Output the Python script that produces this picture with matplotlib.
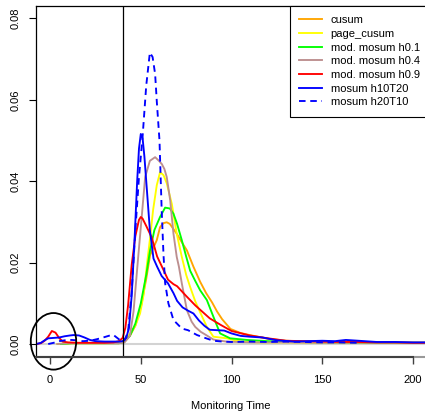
import matplotlib
matplotlib.use("Agg")
import matplotlib.pyplot as plt
from matplotlib.patches import Ellipse

plt.rcParams["font.family"] = ["Liberation Sans", "DejaVu Sans"]
plt.rcParams["font.size"] = 8

# density of detection times
t_cusum = [5, 12, 20, 30, 38, 41, 44, 47, 50, 53, 55.1, 58.8, 60.6, 62.5, 64.3, 66, 69.8,
           72.6, 75.4, 79, 82.7, 86, 89.3, 92, 94.8, 99.4, 105, 110, 120, 130, 150, 170, 190, 207]
v_cusum = [0, 0.0002, 0.0002, 0.0002, 0.0002, 0.0006, 0.002, 0.0045, 0.009, 0.016, 0.0218,
           0.0255, 0.0287, 0.0297, 0.0299, 0.0295, 0.0271, 0.025, 0.023, 0.019, 0.0153, 0.0125,
           0.0102, 0.008, 0.0061, 0.0037, 0.0027, 0.0022, 0.0013, 0.0008, 0.0005, 0.0004,
           0.0003, 0.0003]

t_page = [4, 10, 20, 30, 38, 41, 44, 47, 49.6, 51.5, 53.5, 55.1, 56.8, 58.8, 60.6, 62.5, 64.3,
          67.1, 69.8, 72.6, 75, 77.2, 80, 82.7, 86.4, 90, 97.4, 104.7, 115, 130, 150, 170, 190, 207]
v_page = [0, 0.0002, 0.0002, 0.0002, 0.0003, 0.001, 0.0025, 0.0045, 0.0075, 0.012, 0.02,
          0.026, 0.033, 0.039, 0.0422, 0.0415, 0.0395, 0.0344, 0.0271, 0.0214, 0.017, 0.014,
          0.0105, 0.0078, 0.0042, 0.0018, 0.0014, 0.0006, 0.0004, 0.0004, 0.0003, 0.0003,
          0.0003, 0.0003]

t_h01 = [6, 12, 20, 30, 38, 41, 44, 47, 50, 53, 55.1, 57.5, 60.6, 63.4, 66, 68, 70, 72.6, 75,
         77.2, 80, 82.7, 86.4, 90, 93.7, 99.2, 108.4, 120, 136, 150, 170, 190, 207]
v_h01 = [0, 0.0002, 0.0002, 0.0002, 0.0002, 0.0006, 0.002, 0.005, 0.010, 0.017, 0.023, 0.028,
         0.0312, 0.0335, 0.0333, 0.032, 0.0295, 0.0255, 0.0215, 0.018, 0.0155, 0.0132, 0.0108,
         0.0067, 0.0026, 0.0014, 0.001, 0.0007, 0.0005, 0.0004, 0.0003, 0.0003, 0.0003]

t_h04 = [4, 10, 20, 30, 38, 41, 44, 46, 48.5, 50.5, 52.4, 55, 57.9, 60, 61.6, 63, 64.3, 66.2,
         68, 69.8, 71, 72.6, 75.4, 78, 80, 83, 86, 90, 97, 110, 130, 150, 170, 190, 207]
v_h04 = [0, 0.0002, 0.0002, 0.0002, 0.0002, 0.0004, 0.002, 0.008, 0.021, 0.0312, 0.041, 0.045,
         0.0459, 0.045, 0.0442, 0.043, 0.041, 0.0353, 0.0271, 0.0214, 0.019, 0.0149, 0.0083,
         0.0055, 0.0042, 0.003, 0.0022, 0.0011, 0.0006, 0.0004, 0.0004, 0.0003, 0.0003,
         0.0003, 0.0003]

t_h09 = [-7.5, -5, -3, -1, 1, 3, 5, 7, 10, 15, 20, 25, 30, 35, 38, 40, 41.5, 43, 45, 47, 49,
         50, 51, 53, 56, 59, 62.5, 65, 68, 70, 75, 80, 83, 88, 94, 100, 110, 120, 130, 140,
         150, 160, 170, 180, 190, 200, 207]
v_h09 = [0, 0.0002, 0.0008, 0.0018, 0.0032, 0.0028, 0.0015, 0.0006, 0.0004, 0.0003, 0.0003,
         0.0003, 0.0003, 0.0004, 0.0007, 0.0015, 0.004, 0.0095, 0.0195, 0.0265, 0.0305, 0.0312,
         0.0308, 0.029, 0.0262, 0.0215, 0.0182, 0.0158, 0.0147, 0.0142, 0.0118, 0.0095, 0.0083,
         0.0063, 0.0047, 0.0032, 0.0021, 0.0014, 0.0008, 0.0007, 0.0006, 0.0005, 0.0005,
         0.0004, 0.0004, 0.0003, 0.0003]

t_h10T20 = [-7.5, -5, -3, -1, 2, 5, 8, 11, 13, 16, 19, 22, 25, 30, 35, 38, 40, 42, 43.5, 45,
            46.5, 48, 49, 50, 51, 52, 53.5, 55, 57, 59, 61.5, 65, 68, 70, 73, 76, 79, 82, 85,
            88, 92, 96, 100, 105, 110, 117, 125, 135, 142, 150, 157, 163, 170, 180, 190, 200, 207]
v_h10T20 = [0, 0.0003, 0.0009, 0.0014, 0.0015, 0.0016, 0.0019, 0.0021, 0.0022, 0.0021, 0.0016,
            0.001, 0.0007, 0.0006, 0.0006, 0.0006, 0.0007, 0.0015, 0.004, 0.012, 0.025, 0.040,
            0.048, 0.0516, 0.0505, 0.046, 0.037, 0.028, 0.021, 0.019, 0.0167, 0.0149, 0.0125,
            0.0106, 0.009, 0.0082, 0.0075, 0.0058, 0.0045, 0.0035, 0.0034, 0.0033, 0.0026,
            0.002, 0.0018, 0.0016, 0.0009, 0.0006, 0.0007, 0.0008, 0.0007, 0.001, 0.0008,
            0.0005, 0.0005, 0.0004, 0.0004]

t_h20T10 = [-1, 2, 5, 8, 12, 15, 18, 22, 26, 30, 33, 35, 37, 39, 41, 43, 45, 47, 49, 51, 53,
            55, 56.5, 57.9, 58.8, 60.3, 61.5, 62.5, 63.4, 65.2, 68, 72.6, 76, 81, 86, 90, 95,
            100, 110, 120, 130, 140, 150, 160, 170]
v_h20T10 = [0, 0.0003, 0.0007, 0.0009, 0.001, 0.0009, 0.0007, 0.0008, 0.0012, 0.0017, 0.0021,
            0.0022, 0.0015, 0.0008, 0.0009, 0.003, 0.013, 0.028, 0.041, 0.051, 0.0635, 0.0716,
            0.0705, 0.0663, 0.0597, 0.05, 0.033, 0.022, 0.015, 0.010, 0.0059, 0.0038, 0.0034,
            0.0022, 0.0014, 0.0008, 0.0006, 0.0005, 0.0006, 0.0005, 0.0006, 0.0005, 0.0004,
            0.0004, 0.0003]

labels = ["cusum", "page_cusum", "mod. mosum h0.1", "mod. mosum h0.4",
          "mod. mosum h0.9", "mosum h10T20", "mosum h20T10"]
colors = ["#FFA500", "#FFFF00", "#00FF00", "#BC8F8F", "#FF0000", "#0000FF", "#0000FF"]
series = [(t_cusum, v_cusum), (t_page, v_page), (t_h01, v_h01), (t_h04, v_h04),
          (t_h09, v_h09), (t_h10T20, v_h10T20), (t_h20T10, v_h20T10)]

change_point = 40
x_ticks = [0, 50, 100, 150, 200]
y_ticks = [0.00, 0.02, 0.04, 0.06, 0.08]
xlim = (-7.9, 210)
ylim = (-0.00307, 0.0831)

fig = plt.figure(figsize=(4.25, 4.18), dpi=100)
ax = fig.add_axes([0.084, 0.1471, 0.9306, 0.8392])

ax.axhline(0, color="#D3D3D3", lw=1.5, zorder=1)
for (t, v), c, lab in zip(series, colors, labels):
    ls = (0, (3.5, 2.5)) if lab == "mosum h20T10" else "-"
    ax.plot(t, v, color=c, lw=1.35, ls=ls, label=lab, zorder=2)
ax.axvline(change_point, color="black", lw=0.9, zorder=3)

ax.add_patch(Ellipse((1.9, 0.00066), 25, 0.0139, fill=False, ec="black", lw=1.3,
                     clip_on=False, zorder=4))

ax.set_xlim(*xlim)
ax.set_ylim(*ylim)
ax.set_xticks(x_ticks)
ax.set_yticks(y_ticks)
ax.set_yticklabels([f"{y:.2f}" for y in y_ticks], rotation=90, va="center")
ax.tick_params(axis="y", length=5, width=0.8, pad=6)
ax.tick_params(axis="x", length=5, width=1.0, pad=8, color="#404040")

for s in ["left", "top"]:
    ax.spines[s].set_linewidth(0.9)
ax.spines["bottom"].set_color("#999999")
ax.spines["bottom"].set_linewidth(1.5)
ax.plot([xlim[0], x_ticks[-1]], [0, 0], transform=ax.get_xaxis_transform(),
        color="#404040", lw=1.5, clip_on=False, zorder=5)

leg = ax.legend(loc="upper left", bbox_to_anchor=(0.643, 1.0), borderaxespad=0,
                fancybox=False, framealpha=1, edgecolor="black", fontsize=8,
                handlelength=2.0, handletextpad=0.8, labelspacing=0.33, borderpad=0.85)
leg.get_frame().set_linewidth(0.8)

fig.text(231 / 425, 1 - 405.7 / 418, "Monitoring Time", ha="center", va="center", fontsize=8)

fig.savefig("out.png", dpi=100)
